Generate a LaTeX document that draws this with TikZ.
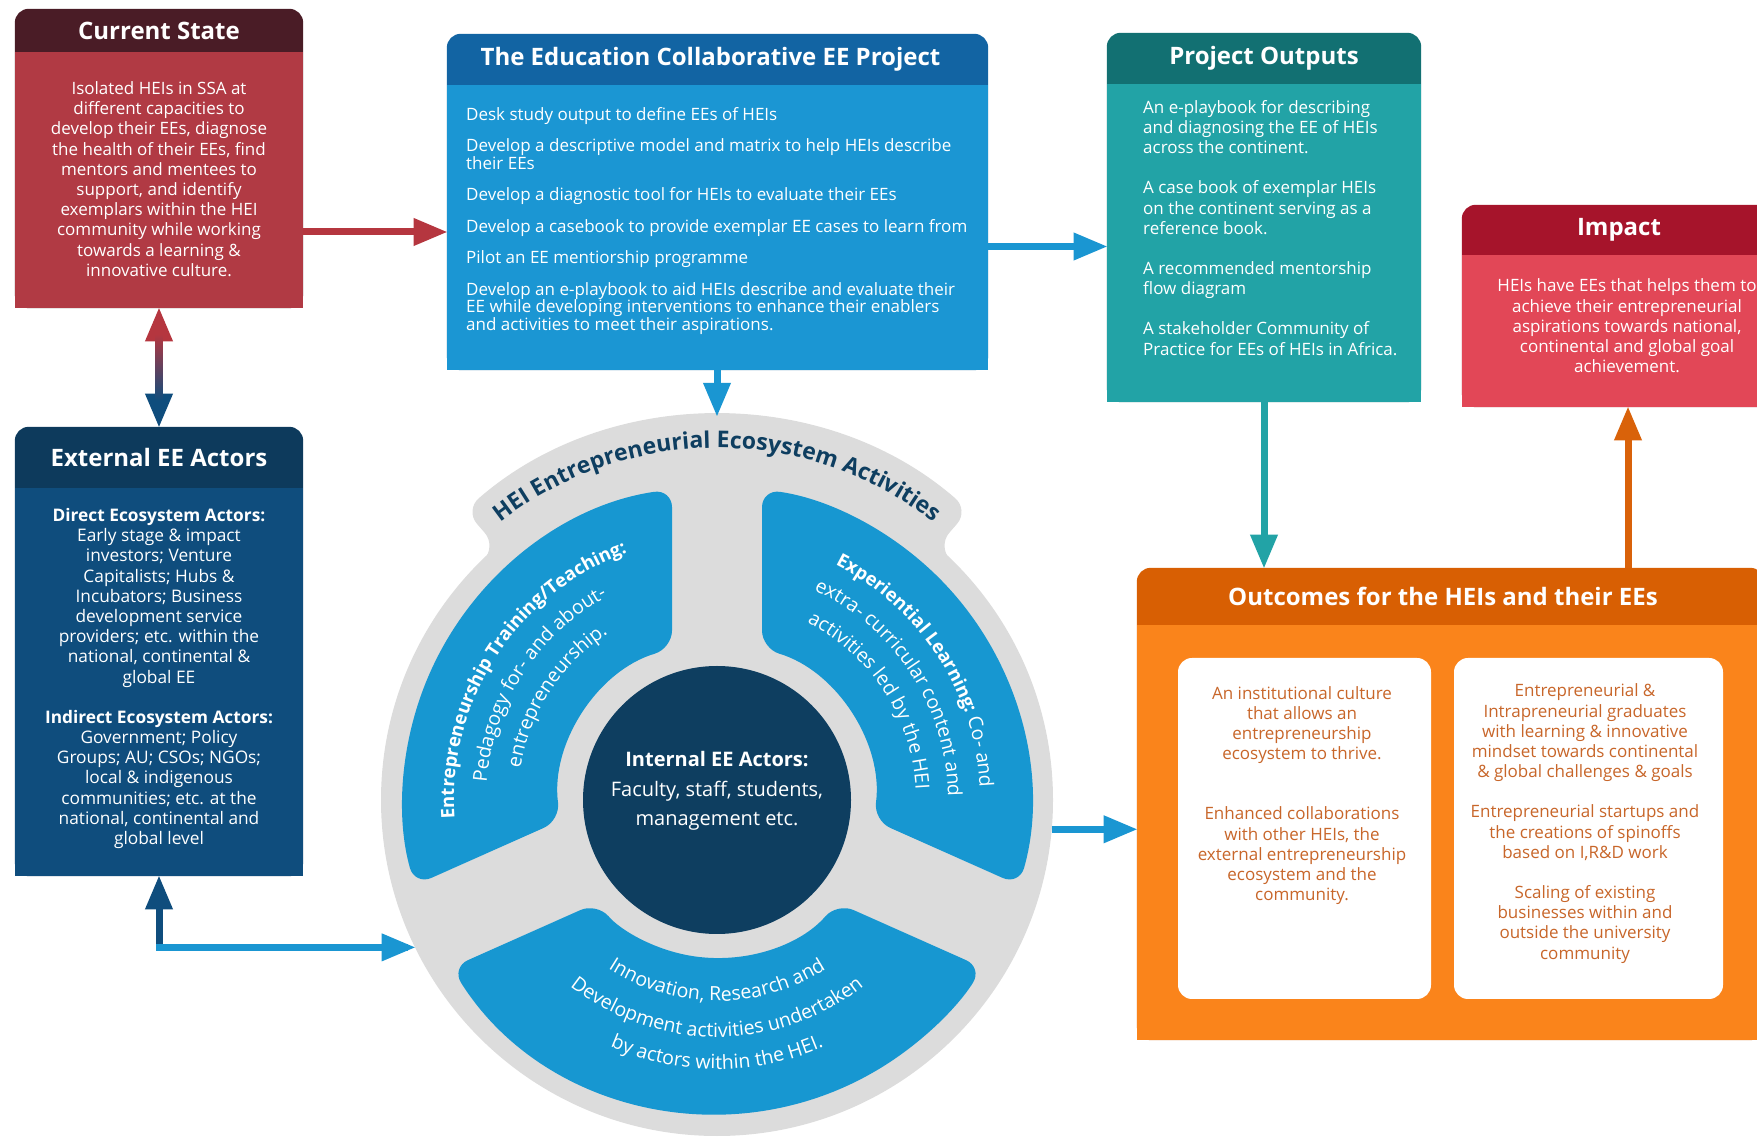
\documentclass[tikz,border=0pt]{standalone}
\usepackage{fontspec}
\setmainfont{Open Sans}
\usetikzlibrary{arrows,calc,decorations.text,positioning}

\definecolor{csred}{HTML}{B13A44}
\definecolor{cshead}{HTML}{4A1C26}
\definecolor{prblue}{HTML}{1B96D3}
\definecolor{prhead}{HTML}{1264A3}
\definecolor{opteal}{HTML}{22A3A6}
\definecolor{ophead}{HTML}{127072}
\definecolor{imred}{HTML}{E24757}
\definecolor{imhead}{HTML}{A6142B}
\definecolor{exblue}{HTML}{0F4D7D}
\definecolor{exhead}{HTML}{0D3A5C}
\definecolor{ocorange}{HTML}{FA841B}
\definecolor{ochead}{HTML}{D85F03}
\definecolor{octext}{HTML}{C8662A}
\definecolor{ringgrey}{HTML}{DCDCDC}
\definecolor{segblue}{HTML}{1797D1}
\definecolor{coreblue}{HTML}{0E3E60}
\definecolor{arrred}{HTML}{B5363F}
\definecolor{arrblue}{HTML}{1A96D2}
\definecolor{arrorange}{HTML}{D9620A}

\newcommand\arcbold{\fontsize{18.5}{18.5}\selectfont\bfseries}
\newcommand\arcreg{\fontsize{19.5}{19.5}\selectfont}
\newcommand\arctitle{\fontsize{23}{23}\selectfont\bfseries}

\begin{document}
\begin{tikzpicture}[x=1pt,y=1pt]
\tikzstyle{panel}=[inner sep=0pt]
\tikzstyle{headtext}=[text=white,font=\fontsize{24}{24}\selectfont\bfseries]
\tikzstyle{bodytext}=[text=white,align=center,inner sep=0pt,font=\fontsize{17}{20.2}\selectfont]
\tikzstyle{listtext}=[text=white,align=left,inner sep=0pt,font=\fontsize{17}{17.5}\selectfont]
\tikzstyle{outtext}=[text=octext,align=center,inner sep=0pt,font=\fontsize{17}{20.2}\selectfont]
\tikzstyle{whitebox}=[fill=white,rounded corners=14pt,inner sep=0pt]
\tikzstyle{arctext}=[decorate,decoration={text along path,text align=center,text color=white}]
\tikzstyle{redarrow}=[line width=7pt,draw=arrred,-triangle 45]
\tikzstyle{bluearrow}=[line width=7pt,draw=arrblue,-triangle 45]
\tikzstyle{navyarrow}=[line width=7pt,draw=exblue,-triangle 45]
\tikzstyle{tealarrow}=[line width=7pt,draw=opteal,-triangle 45]
\tikzstyle{orangearrow}=[line width=7pt,draw=arrorange,-triangle 45]

\useasboundingbox (0,0) rectangle (1757,1136);

%current state
\node[panel,minimum width=288pt,minimum height=299pt] (cur) at (159,977.5) {};
\fill[cshead,rounded corners=14pt] (cur.south west) rectangle (cur.north east);
\fill[csred] (cur.south west) rectangle ([yshift=-43pt]cur.north east);
\node[headtext] (curhead) at ([yshift=-22pt]cur.north) {Current State};
\node[bodytext] (curtext) at (159,957) {Isolated HEIs in SSA at\\different capacities to\\develop their EEs,  diagnose\\the health of their EEs, find\\mentors and mentees to\\support, and identify\\exemplars within the HEI\\community while working\\towards a learning \&\\innovative culture.};

%the project
\node[panel,minimum width=541pt,minimum height=336pt] (proj) at (717.5,934) {};
\fill[prhead,rounded corners=14pt] (proj.south west) rectangle (proj.north east);
\fill[prblue] (proj.south west) rectangle ([yshift=-51pt]proj.north east);
\node[headtext] (projhead) at ([xshift=-7pt,yshift=-25.5pt]proj.north) {The Education Collaborative EE Project};
\node[listtext,anchor=north west] (projtext) at (466,1029) {Desk study output to define EEs of HEIs\\[14pt]
Develop a descriptive model and matrix to help HEIs describe\\their EEs\\[14pt]
Develop a diagnostic tool for HEIs to evaluate their EEs\\[14pt]
Develop a casebook to provide exemplar EE cases to learn from\\[14pt]
Pilot an EE mentiorship programme\\[14pt]
Develop an e-playbook to aid HEIs describe and evaluate their\\EE while developing interventions to enhance their enablers\\and activities to meet their aspirations.};

%project outputs
\node[panel,minimum width=314pt,minimum height=369pt] (outp) at (1264,918.5) {};
\fill[ophead,rounded corners=14pt] (outp.south west) rectangle (outp.north east);
\fill[opteal] (outp.south west) rectangle ([yshift=-51pt]outp.north east);
\node[headtext] (outphead) at ([yshift=-25.5pt]outp.north) {Project Outputs};
\node[listtext,anchor=north west,font=\fontsize{17}{20.2}\selectfont] (outptext) at (1143,1036) {An e-playbook for describing\\and diagnosing the EE of HEIs\\across the continent.\\[20pt]
A case book of exemplar HEIs\\on the continent serving as a\\reference book.\\[20pt]
A recommended mentorship\\flow diagram\\[20pt]
A stakeholder Community of\\Practice for EEs of HEIs in Africa.};

%impact
\node[panel,minimum width=332pt,minimum height=202pt] (imp) at (1628,830) {};
\fill[imhead,rounded corners=14pt] (imp.south west) rectangle (imp.north east);
\fill[imred] (imp.south west) rectangle ([yshift=-50pt]imp.north east);
\node[headtext] (imphead) at ([xshift=-9pt,yshift=-25pt]imp.north) {Impact};
\node[bodytext] (imptext) at (1627,810) {HEIs have EEs that helps them to\\achieve their entrepreneurial\\aspirations towards national,\\continental and global goal\\achievement.};

%external actors
\node[panel,minimum width=288pt,minimum height=449pt] (ext) at (159,484.5) {};
\fill[exhead,rounded corners=14pt] (ext.south west) rectangle (ext.north east);
\fill[exblue] (ext.south west) rectangle ([yshift=-61pt]ext.north east);
\node[headtext] (exthead) at ([yshift=-30.5pt]ext.north) {External EE Actors};
\node[bodytext,font=\fontsize{17.3}{20.2}\selectfont] (exttext) at (159,457.5) {{\bfseries Direct Ecosystem Actors:}\\Early stage \& impact\\investors; Venture\\Capitalists; Hubs \&\\Incubators; Business\\development service\\providers; etc. within the\\national, continental \&\\global EE\\[20pt]
{\bfseries Indirect Ecosystem Actors:}\\Government; Policy\\Groups; AU; CSOs; NGOs;\\local \& indigenous\\communities; etc. at the\\national, continental and\\global level};

%outcomes
\node[panel,minimum width=627pt,minimum height=472pt] (outc) at (1450.5,332) {};
\fill[ochead,rounded corners=14pt] (outc.south west) rectangle (outc.north east);
\fill[ocorange] (outc.south west) rectangle ([yshift=-57pt]outc.north east);
\node[headtext] (outchead) at ([xshift=-7.5pt,yshift=-28.5pt]outc.north) {Outcomes for the HEIs and their EEs};
\node[whitebox,minimum width=253pt,minimum height=341pt] (res1) at (1304.5,307.5) {};
\node[whitebox,minimum width=269pt,minimum height=341pt] (res2) at (1588.5,307.5) {};
\node[outtext] (res1text) at (1302,340.5) {An institutional culture\\that allows an\\entrepreneurship\\ecosystem to thrive.\\[40pt]
Enhanced collaborations\\with other HEIs, the\\external entrepreneurship\\ecosystem and the\\community.};
\node[outtext] (res2text) at (1585,312.5) {Entrepreneurial \&\\Intrapreneurial graduates\\with learning \& innovative\\mindset towards continental\\\& global challenges \& goals\\[20pt]
Entrepreneurial startups and\\the creations of spinoffs\\based on I,R\&D work\\[20pt]
Scaling of existing\\businesses within and\\outside the university\\community};

%ecosystem wheel
\coordinate (rc) at (717,336);
\fill[ringgrey,rounded corners=18pt] ($(rc)+(141:300)$) -- ($(rc)+(141:336)$) -- ($(rc)+(131:336)$) -- ($(rc)+(131:384)$) arc[start angle=131,end angle=49,radius=384] -- ($(rc)+(49:336)$) -- ($(rc)+(39:336)$) -- ($(rc)+(39:300)$) -- cycle;
\node[circle,fill=ringgrey,minimum size=672pt,inner sep=0pt] (ring) at (rc) {};
\foreach \os/\oe/\is/\ie in {98.24/195.76/187.45/106.55,-15.76/81.76/73.45/-7.45,212.24/327.76/319.45/220.55}
  \fill[segblue,rounded corners=18pt] ($(rc)+(\os:314)$) arc[start angle=\os,end angle=\oe,radius=314] -- ($(rc)+(\is:158)$) arc[start angle=\is,end angle=\ie,radius=158] -- cycle;
\node[circle,fill=coreblue,minimum size=268pt,inner sep=0pt] (core) at (rc) {};
\node[bodytext,font=\fontsize{20}{29.5}\selectfont] (coretext) at ([yshift=9pt]rc) {{\bfseries Internal EE Actors:}\\Faculty, staff, students,\\management etc.};

%curved labels
\path[arctext,decoration={text={|\arctitle|HEI Entrepreneurial Ecosystem Activities},text color=coreblue}] ($(rc)+(150:352)$) arc[start angle=150,end angle=30,radius=352];
\path[arctext,decoration={text={|\arcbold|Entrepreneurship Training/Teaching:}}] ($(rc)+(207:263)$) arc[start angle=207,end angle=87,radius=263];
\path[arctext,decoration={text={|\arcreg|Pedagogy for- and about-}}] ($(rc)+(207:231)$) arc[start angle=207,end angle=87,radius=231];
\path[arctext,decoration={text={|\arcreg|entrepreneurship.}}] ($(rc)+(207:199)$) arc[start angle=207,end angle=87,radius=199];
\path[arctext,decoration={text={|\arcbold|Experiential Learning:|\arcreg| Co- and}}] ($(rc)+(93:263)$) arc[start angle=93,end angle=-27,radius=263];
\path[arctext,decoration={text={|\arcreg|extra- curricular content and}}] ($(rc)+(93:231)$) arc[start angle=93,end angle=-27,radius=231];
\path[arctext,decoration={text={|\arcreg|activities led by the HEI}}] ($(rc)+(93:199)$) arc[start angle=93,end angle=-27,radius=199];
\path[arctext,decoration={text={|\arcreg|Innovation, Research and}}] ($(rc)+(210:201)$) arc[start angle=210,end angle=330,radius=201];
\path[arctext,decoration={text={|\arcreg|Development activities undertaken}}] ($(rc)+(210:237)$) arc[start angle=210,end angle=330,radius=237];
\path[arctext,decoration={text={|\arcreg|by actors within the HEI.}}] ($(rc)+(210:269)$) arc[start angle=210,end angle=330,radius=269];

%arrows between the panels
\coordinate (csarr) at ([yshift=-73.5pt]cur.east);
\draw[redarrow] (csarr) -- (csarr -| proj.west);
\coordinate (csmid) at ($(cur.south)!0.5!(ext.north)$);
\draw[redarrow] (csmid) -- (cur.south);
\draw[navyarrow] (csmid) -- (ext.north);
\shade[top color=arrred,bottom color=exblue] ([xshift=-3.5pt,yshift=-26pt]cur.south) rectangle ([xshift=3.5pt,yshift=26pt]ext.north);
\coordinate (tabtop) at ($(rc)+(90:384)$);
\draw[bluearrow] (proj.south -| tabtop) -- (tabtop);
\coordinate (prarr) at ([yshift=-44.5pt]proj.east);
\draw[bluearrow] (prarr) -- (prarr -| outp.west);
\draw[tealarrow] (outp.south) -- (outp.south |- outc.north);
\draw[orangearrow] (imp.south |- outc.north) -- (imp.south);
\draw[bluearrow] (ring.355.2) -- (ring.355.2 -| outc.west);
\coordinate (bend) at (ext.south |- ring.206.5);
\draw[navyarrow] (bend) -- (ext.south);
\draw[bluearrow,line cap=rect] (bend) -- (ring.206.5);

\end{tikzpicture}
\end{document}
